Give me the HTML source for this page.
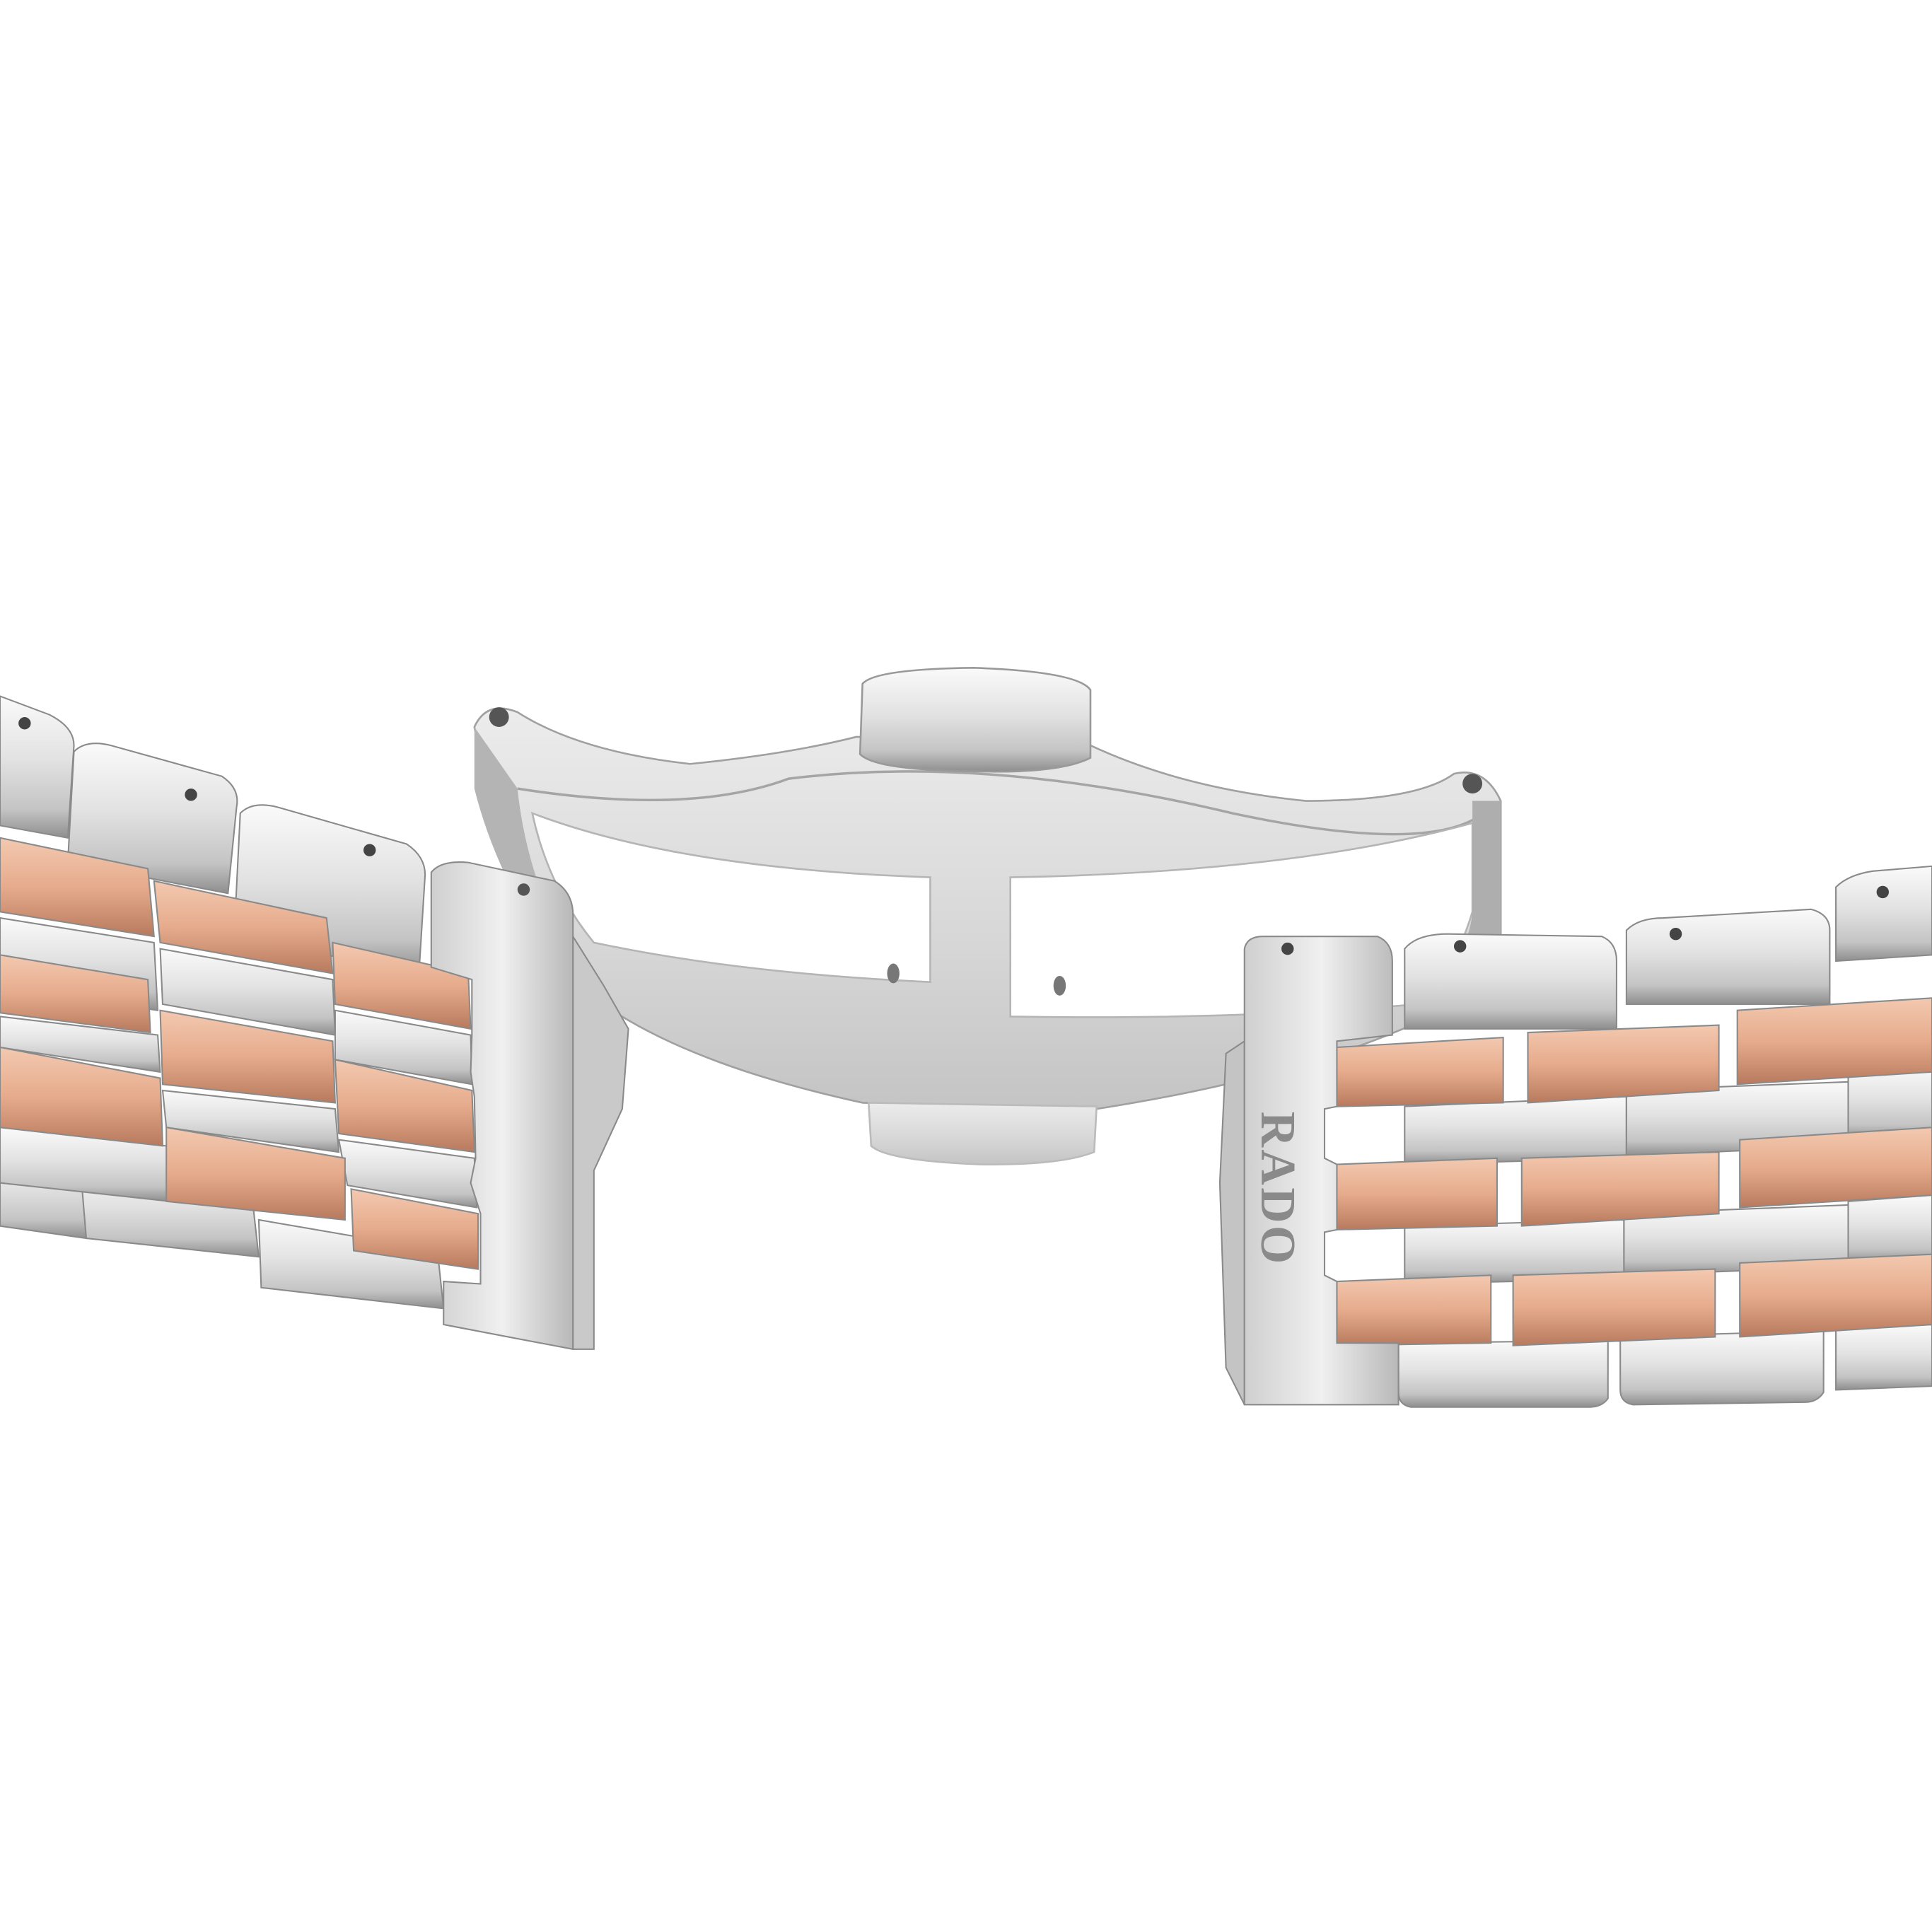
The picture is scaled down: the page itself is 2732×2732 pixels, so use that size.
<!DOCTYPE html>
<html><head><meta charset="utf-8"><style>
html,body{margin:0;padding:0;background:#fff}
svg{display:block}
</style></head><body>
<svg width="2732" height="2732" viewBox="0 0 1568 1568" xmlns="http://www.w3.org/2000/svg">
<defs>
<linearGradient id="s" x1="0" y1="0" x2="0" y2="1"><stop offset="0" stop-color="#fafafa"/><stop offset="0.45" stop-color="#e2e2e2"/><stop offset="0.8" stop-color="#c4c4c4"/><stop offset="1" stop-color="#8e8e8e"/></linearGradient>
<linearGradient id="sh" x1="0" y1="0" x2="1" y2="0"><stop offset="0" stop-color="#cfcfcf"/><stop offset="0.5" stop-color="#f0f0f0"/><stop offset="1" stop-color="#b8b8b8"/></linearGradient>
<linearGradient id="r" x1="0" y1="0" x2="0" y2="1"><stop offset="0" stop-color="#f3c9b0"/><stop offset="0.5" stop-color="#e6ab8c"/><stop offset="1" stop-color="#b87a5e"/></linearGradient>
<linearGradient id="c" x1="0" y1="0" x2="0" y2="1"><stop offset="0" stop-color="#ececec"/><stop offset="0.6" stop-color="#d6d6d6"/><stop offset="1" stop-color="#c4c4c4"/></linearGradient>
</defs>
<rect width="1568" height="1568" fill="#fff"/>

<!-- clasp body -->
<path d="M385,590 Q395,568 420,578 Q470,610 560,620 Q640,612 695,598 L885,605 Q960,640 1060,650 Q1150,650 1180,628 Q1205,622 1218,650 L1218,760 Q1200,800 1150,830 Q1050,875 890,900 L700,895 Q540,860 470,800 Q430,760 410,700 Q395,640 385,590 Z" fill="url(#c)" stroke="#a0a0a0" stroke-width="1.5"/>
<path d="M420,640 Q560,662 640,632 Q800,612 1000,660 Q1150,692 1198,664" fill="none" stroke="#a5a5a5" stroke-width="2"/>
<!-- cutouts -->
<path d="M432,660 Q550,705 755,712 L755,797 Q600,790 482,765 Q445,720 432,660 Z" fill="#fff" stroke="#b5b5b5" stroke-width="1.5"/>
<path d="M820,712 Q1050,708 1195,668 L1195,740 Q1180,790 1150,815 Q1000,828 820,825 Z" fill="#fff" stroke="#b5b5b5" stroke-width="1.5"/>
<!-- brushed strips -->
<path d="M385,590 L420,640 Q428,720 475,800 L462,795 Q405,720 385,640 Z" fill="#b4b4b4"/>
<path d="M1195,650 L1218,650 L1218,760 Q1200,800 1150,830 L1148,815 Q1192,780 1195,740 Z" fill="#aeaeae"/>
<circle cx="405" cy="582" r="8" fill="#555"/><circle cx="1195" cy="636" r="8" fill="#555"/>
<ellipse cx="725" cy="790" rx="5" ry="8" fill="#777"/><ellipse cx="860" cy="800" rx="5" ry="8" fill="#777"/>
<!-- top button -->
<path d="M700,555 Q710,543 790,542 Q875,545 885,560 L885,615 Q860,628 790,626 Q710,625 698,612 Z" fill="url(#s)" stroke="#999" stroke-width="1.5"/>
<!-- bottom button -->
<path d="M705,895 L890,898 L888,935 Q860,946 795,945 Q720,942 707,930 Z" fill="url(#c)" stroke="#bbb" stroke-width="1.5"/>

<!-- LEFT bracelet -->
<g stroke="#8a8a8a" stroke-width="1.2">
<path d="M0,930 L65,940 L70,1005 L0,995 Z" fill="url(#s)"/>
<path d="M65,945 L205,975 L210,1020 L70,1005 Z" fill="url(#s)"/>
<path d="M210,990 L355,1015 L360,1062 L212,1045 Z" fill="url(#s)"/>
<path d="M0,745 L125,765 L128,820 L0,800 Z" fill="url(#s)"/>
<path d="M130,770 L270,795 L272,840 L132,815 Z" fill="url(#s)"/>
<path d="M0,825 L128,840 L130,870 L0,850 Z" fill="url(#s)"/>
<path d="M272,820 L382,840 L383,880 L272,860 Z" fill="url(#s)"/>
<path d="M132,885 L272,900 L275,935 L135,915 Z" fill="url(#s)"/>
<path d="M0,915 L135,930 L138,975 L0,960 Z" fill="url(#s)"/>
<path d="M275,925 L385,940 L387,980 L282,962 Z" fill="url(#s)"/>
<!-- caps -->
<path d="M0,565 L40,580 Q60,590 60,605 L55,680 L0,670 Z" fill="url(#s)"/>
<path d="M60,610 Q70,600 90,605 L180,630 Q195,640 192,655 L185,725 L55,700 Z" fill="url(#s)"/>
<path d="M195,660 Q205,650 225,655 L330,685 Q345,695 345,710 L340,790 L190,760 Z" fill="url(#s)"/>
<!-- rose -->
<path d="M0,680 L120,705 L125,760 L0,740 Z" fill="url(#r)"/>
<path d="M125,715 L265,745 L270,790 L130,765 Z" fill="url(#r)"/>
<path d="M270,765 L380,790 L382,835 L272,815 Z" fill="url(#r)"/>
<path d="M0,775 L120,795 L122,838 L0,822 Z" fill="url(#r)"/>
<path d="M130,820 L270,845 L272,895 L132,880 Z" fill="url(#r)"/>
<path d="M0,850 L130,875 L132,930 L0,915 Z" fill="url(#r)"/>
<path d="M272,860 L383,885 L385,935 L275,920 Z" fill="url(#r)"/>
<path d="M135,915 L280,940 L280,990 L135,975 Z" fill="url(#r)"/>
<path d="M285,965 L388,985 L388,1030 L287,1015 Z" fill="url(#r)"/>
<!-- end link side -->
<path d="M465,760 L490,800 L510,835 L505,900 L482,950 L482,1095 L465,1095 Z" fill="#c9c9c9"/>
<!-- end link -->
<path d="M350,708 Q358,698 380,700 L450,715 Q466,725 465,745 L465,1095 L360,1075 L360,1040 L390,1042 L390,985 L382,960 L386,940 L385,890 L382,870 L383,840 L383,795 L350,785 Z" fill="url(#sh)"/>
</g>
<circle cx="20" cy="587" r="5" fill="#444"/><circle cx="155" cy="645" r="5" fill="#444"/><circle cx="300" cy="690" r="5" fill="#444"/><circle cx="425" cy="722" r="5" fill="#555"/>

<!-- RIGHT bracelet -->
<g stroke="#8a8a8a" stroke-width="1.2">
<path d="M1140,770 Q1150,758 1175,758 L1300,760 Q1312,765 1312,780 L1312,835 L1140,835 Z" fill="url(#s)"/>
<path d="M1320,755 Q1330,745 1350,745 L1470,738 Q1485,742 1485,755 L1485,815 L1320,815 Z" fill="url(#s)"/>
<path d="M1490,720 Q1500,710 1520,707 L1568,703 L1568,775 L1490,780 Z" fill="url(#s)"/>
<path d="M1140,898 L1320,890 L1320,940 L1140,945 Z" fill="url(#s)"/>
<path d="M1320,885 L1500,878 L1500,930 L1320,938 Z" fill="url(#s)"/>
<path d="M1500,870 L1568,865 L1568,918 L1500,925 Z" fill="url(#s)"/>
<path d="M1140,995 L1318,990 L1318,1038 L1140,1042 Z" fill="url(#s)"/>
<path d="M1318,985 L1500,978 L1500,1028 L1318,1035 Z" fill="url(#s)"/>
<path d="M1500,975 L1568,970 L1568,1020 L1500,1025 Z" fill="url(#s)"/>
<path d="M1135,1090 L1305,1088 L1305,1135 Q1300,1142 1290,1142 L1145,1142 Q1135,1140 1135,1130 Z" fill="url(#s)"/>
<path d="M1315,1085 L1480,1080 L1480,1130 Q1475,1138 1465,1138 L1325,1140 Q1315,1138 1315,1128 Z" fill="url(#s)"/>
<path d="M1490,1078 L1568,1075 L1568,1125 L1490,1128 Z" fill="url(#s)"/>
<path d="M1085,850 L1220,842 L1220,895 L1085,898 Z" fill="url(#r)"/>
<path d="M1240,838 L1395,832 L1395,885 L1240,895 Z" fill="url(#r)"/>
<path d="M1410,820 L1568,810 L1568,870 L1410,880 Z" fill="url(#r)"/>
<path d="M1085,945 L1215,940 L1215,995 L1085,998 Z" fill="url(#r)"/>
<path d="M1235,940 L1395,935 L1395,985 L1235,995 Z" fill="url(#r)"/>
<path d="M1412,925 L1568,915 L1568,970 L1412,980 Z" fill="url(#r)"/>
<path d="M1085,1040 L1210,1035 L1210,1090 L1085,1092 Z" fill="url(#r)"/>
<path d="M1228,1035 L1392,1030 L1392,1085 L1228,1092 Z" fill="url(#r)"/>
<path d="M1412,1025 L1568,1018 L1568,1075 L1412,1085 Z" fill="url(#r)"/>
<path d="M995,855 L1010,845 L1010,1140 L995,1110 L990,960 Z" fill="#c4c4c4"/>
<path d="M1010,770 Q1012,760 1025,760 L1118,760 Q1130,765 1130,780 L1130,840 L1085,845 L1085,898 L1075,900 L1075,940 L1085,945 L1085,998 L1075,1000 L1075,1035 L1085,1040 L1085,1090 L1135,1090 L1135,1140 L1010,1140 Z" fill="url(#sh)"/>
</g>
<circle cx="1045" cy="770" r="5" fill="#444"/><circle cx="1185" cy="768" r="5" fill="#444"/><circle cx="1360" cy="758" r="5" fill="#444"/><circle cx="1528" cy="724" r="5" fill="#444"/>
<text x="0" y="0" transform="translate(1024,902) rotate(90)" font-family="Liberation Serif, serif" font-weight="bold" font-size="40" fill="#8a8a8a" letter-spacing="2">RADO</text>
</svg>
</body></html>
